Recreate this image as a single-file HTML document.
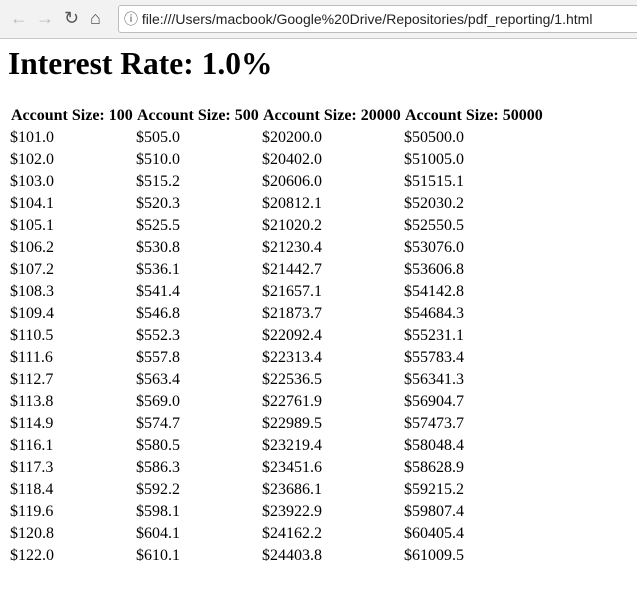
<!DOCTYPE html>
<html><head><meta charset="utf-8"><style>
body{margin:0;width:637px;height:602px;background:#fff;overflow:hidden;position:relative;font-family:"Liberation Serif",serif}
#bar{position:absolute;left:0;top:0;width:637px;height:38px;background:#f2f2f2;border-bottom:1px solid #c8c8c8;font-family:"Liberation Sans",sans-serif}
#url{position:absolute;left:118px;top:5px;width:530px;height:26px;background:#fff;border:1px solid #bdbdbd;border-radius:3px;font-size:14px;line-height:26px;color:#222}
.nav{position:absolute;top:8px;font-size:18px;color:#bbb}
h1{position:absolute;left:8px;top:46px;margin:0;font:bold 31.5px "Liberation Serif",serif}
.c{position:absolute;font-size:16px;white-space:nowrap;line-height:18px}
.h{font:bold 16px "Liberation Serif",serif}
</style></head><body>
<div id="bar">
<span class="nav" style="left:10px">←</span>
<span class="nav" style="left:36px">→</span>
<span class="nav" style="left:64px;color:#555">↻</span>
<span class="nav" style="left:90px;color:#555">⌂</span>
<div id="url"><span style="margin-left:5px;color:#555">ⓘ</span> file:///Users/macbook/Google%20Drive/Repositories/pdf_reporting/1.html</div>
</div>
<h1>Interest Rate: 1.0%</h1>
<div id="t"></div>
<script>
const headers=["Account Size: 100","Account Size: 500","Account Size: 20000","Account Size: 50000"];
const col1=["101.0","102.0","103.0","104.1","105.1","106.2","107.2","108.3","109.4","110.5","111.6","112.7","113.8","114.9","116.1","117.3","118.4","119.6","120.8","122.0"];
const col2=["505.0","510.0","515.2","520.3","525.5","530.8","536.1","541.4","546.8","552.3","557.8","563.4","569.0","574.7","580.5","586.3","592.2","598.1","604.1","610.1"];
const col3=["20200.0","20402.0","20606.0","20812.1","21020.2","21230.4","21442.7","21657.1","21873.7","22092.4","22313.4","22536.5","22761.9","22989.5","23219.4","23451.6","23686.1","23922.9","24162.2","24403.8"];
const col4=["50500.0","51005.0","51515.1","52030.2","52550.5","53076.0","53606.8","54142.8","54684.3","55231.1","55783.4","56341.3","56904.7","57473.7","58048.4","58628.9","59215.2","59807.4","60405.4","61009.5"];
const xs=[10,136,262,404];
const t=document.getElementById('t');
headers.forEach((h,i)=>{const d=document.createElement('div');d.className='c h';d.style.left=(xs[i]+1)+'px';d.style.top='107px';d.textContent=h;


t.appendChild(d);});
[col1,col2,col3,col4].forEach((col,ci)=>col.forEach((v,r)=>{const d=document.createElement('div');d.className='c';d.style.left=xs[ci]+'px';d.style.top=(129+r*22)+'px';d.textContent='$'+v;


t.appendChild(d);}));
</script>
</body></html>
